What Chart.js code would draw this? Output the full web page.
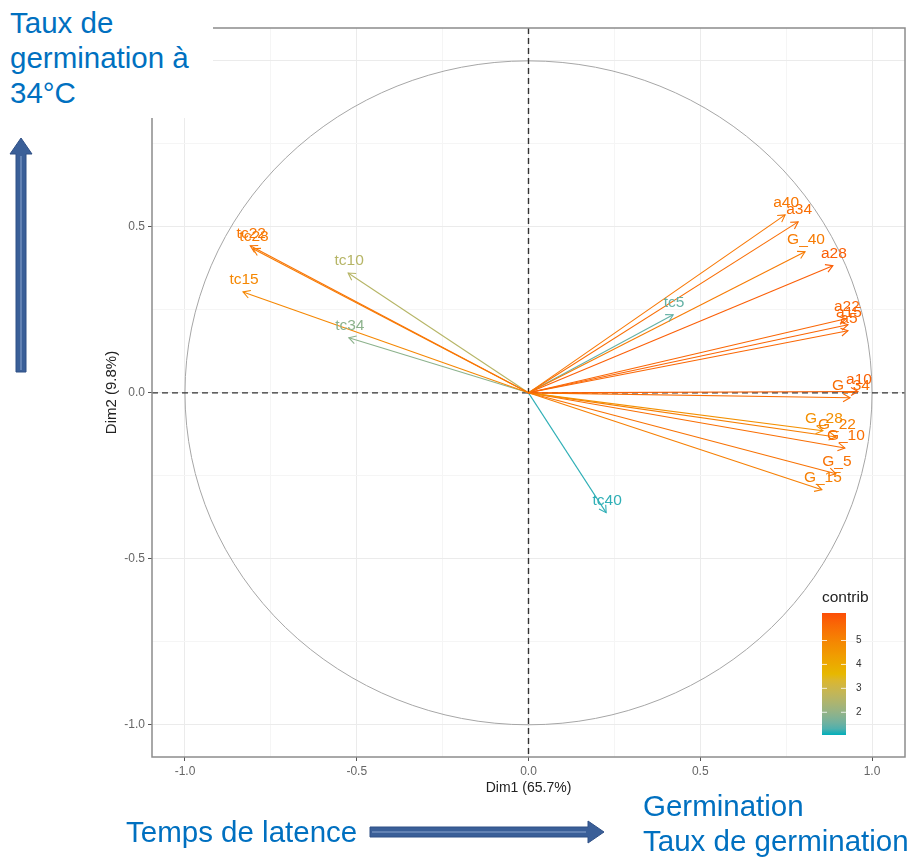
<!DOCTYPE html>
<html>
<head>
<meta charset="utf-8">
<script src="https://cdn.jsdelivr.net/npm/chart.js@4.4.1/dist/chart.umd.min.js"></script>
<style>
  body { margin: 0; background: #fff; font-family: "Liberation Sans", Arial, sans-serif; }
  #wrap { position: relative; width: 909px; height: 857px; overflow: hidden; }
  #pca { position: absolute; left: 0; top: 0; }
  .note { position: absolute; color: #0070C0; font-size: 29.5px; line-height: 35px; white-space: nowrap; }
  svg { position: absolute; }
</style>
</head>
<body>
<div id="wrap">
  <canvas id="pca" width="909" height="857"></canvas>

  <!-- annotations pasted over the plot -->
  <div class="note" style="left:0; top:0; width:213px; height:118px; background:#fff; padding:5px 0 0 10px; box-sizing:border-box;">Taux de<br>germination à<br>34°C</div>
  <svg style="left:8px; top:136px;" width="26" height="240">
    <polygon points="13,2 24,18 18,18 18,236 8,236 8,18 2,18" fill="#3a5f98" stroke="#2f5086" stroke-width="1"/>
    <line x1="13" y1="20" x2="13" y2="234" stroke="#8aa6d0" stroke-width="1"/>
  </svg>
  <div class="note" style="left:126px; top:814px;">Temps de latence</div>
  <svg style="left:368px; top:819px;" width="240" height="26">
    <polygon points="236,13 220,2 220,8 2,8 2,18 220,18 220,24" fill="#3a5f98" stroke="#2f5086" stroke-width="1"/>
    <line x1="4" y1="13" x2="218" y2="13" stroke="#8aa6d0" stroke-width="1"/>
  </svg>
  <div class="note" style="left:643px; top:788px;">Germination<br>Taux de germination</div>
</div>

<script>
// variables of the correlation circle (Dim1, Dim2 coordinates)
const varNames = ['a40', 'a34', 'G_40', 'a28', 'tc5', 'a22', 'a15', 'a5', 'G_34', 'a10',
                  'G_28', 'G_22', 'G_10', 'G_5', 'G_15', 'tc22', 'tc28', 'tc15', 'tc10', 'tc34', 'tc40'];
const dim1 = [0.747, 0.785, 0.805, 0.886, 0.421, 0.924, 0.930, 0.930, 0.936, 0.959,
              0.857, 0.895, 0.921, 0.895, 0.854, -0.810, -0.802, -0.831, -0.525, -0.523, 0.226];
const dim2 = [0.536, 0.515, 0.425, 0.383, 0.235, 0.223, 0.205, 0.187, -0.015, 0.004,
              -0.114, -0.133, -0.166, -0.244, -0.292, 0.443, 0.434, 0.304, 0.361, 0.166, -0.361];
const contrib = [5.33, 5.56, 5.23, 5.87, 1.46, 5.70, 5.72, 5.67, 5.52, 5.80,
                 4.71, 5.16, 5.52, 5.43, 5.13, 5.37, 5.24, 4.94, 2.56, 1.90, 1.14];

// axes
const gridValues = [-1, -0.75, -0.5, -0.25, 0, 0.25, 0.5, 0.75, 1];
const tickValues = [-1, -0.5, 0, 0.5, 1];
const tickLabels = ['-1.0', '-0.5', '0.0', '0.5', '1.0'];

// colour legend
const legendRange = [1.05, 6.15];
const legendTicks = [2, 3, 4, 5];
const gradientCols = ['#00AFBB', '#E7B800', '#FC4E07'];

// gradient is interpolated in Lab space, like ggplot does
function toLab(hex) {
  let rgb = [1, 3, 5].map(k => parseInt(hex.substr(k, 2), 16) / 255)
    .map(c => c > 0.04045 ? Math.pow((c + 0.055) / 1.055, 2.4) : c / 12.92);
  const [r, g, b] = rgb;
  let X = (r * 0.4124 + g * 0.3576 + b * 0.1805) / 0.95047;
  let Y = (r * 0.2126 + g * 0.7152 + b * 0.0722);
  let Z = (r * 0.0193 + g * 0.1192 + b * 0.9505) / 1.08883;
  const f = t => t > 0.008856 ? Math.cbrt(t) : 7.787 * t + 16 / 116;
  X = f(X); Y = f(Y); Z = f(Z);
  return [116 * Y - 16, 500 * (X - Y), 200 * (Y - Z)];
}
function fromLab([L, a, bb]) {
  let Y = (L + 16) / 116, X = a / 500 + Y, Z = Y - bb / 200;
  const fi = t => t * t * t > 0.008856 ? t * t * t : (t - 16 / 116) / 7.787;
  X = fi(X) * 0.95047; Y = fi(Y); Z = fi(Z) * 1.08883;
  let r = X * 3.2406 + Y * -1.5372 + Z * -0.4986;
  let g = X * -0.9689 + Y * 1.8758 + Z * 0.0415;
  let b = X * 0.0557 + Y * -0.2040 + Z * 1.0570;
  return [r, g, b].map(c => c > 0.0031308 ? 1.055 * Math.pow(c, 1 / 2.4) - 0.055 : 12.92 * c)
    .map(c => Math.round(Math.max(0, Math.min(1, c)) * 255));
}
const labCols = gradientCols.map(toLab);

function contribColor(v) {
  let t = (v - legendRange[0]) / (legendRange[1] - legendRange[0]);
  t = Math.max(0, Math.min(1, t));
  const seg = t < 0.5 ? 0 : 1;
  const f = seg === 0 ? t * 2 : (t - 0.5) * 2;
  const a = labCols[seg], b = labCols[seg + 1];
  const c = fromLab(a.map((x, i) => x + (b[i] - x) * f));
  return 'rgb(' + c.join(',') + ')';
}

const colors = contrib.map(contribColor);

const datasets = varNames.map((name, i) => ({
  label: name,
  data: [{x: 0, y: 0}, {x: dim1[i], y: dim2[i]}],
  showLine: true,
  borderColor: colors[i],
  borderWidth: 1.1,
  pointRadius: 0
}));

// circle, dashed axes, arrowheads, labels, colourbar, panel border
const pcaDecor = {
  id: 'pcaDecor',
  beforeDatasetsDraw(chart) {
    const {ctx, chartArea, scales: {x, y}} = chart;
    const cx = x.getPixelForValue(0), cy = y.getPixelForValue(0);
    ctx.save();
    ctx.beginPath();
    ctx.ellipse(cx, cy, x.getPixelForValue(1) - cx, cy - y.getPixelForValue(1), 0, 0, Math.PI * 2);
    ctx.strokeStyle = '#a6a6a6';
    ctx.lineWidth = 1;
    ctx.stroke();

    ctx.setLineDash([6, 4]);
    ctx.strokeStyle = '#333';
    ctx.lineWidth = 1.4;
    ctx.beginPath();
    ctx.moveTo(chartArea.left, cy); ctx.lineTo(chartArea.right, cy);
    ctx.moveTo(cx, chartArea.top); ctx.lineTo(cx, chartArea.bottom);
    ctx.stroke();
    ctx.restore();
  },
  afterDatasetsDraw(chart) {
    const {ctx, chartArea, scales: {x, y}} = chart;
    const ox = x.getPixelForValue(0), oy = y.getPixelForValue(0);
    ctx.save();
    ctx.lineWidth = 1.1;
    ctx.font = '15.5px "Liberation Sans", Arial, sans-serif';
    ctx.textAlign = 'center';
    ctx.textBaseline = 'middle';
    varNames.forEach((name, i) => {
      const tx = x.getPixelForValue(dim1[i]), ty = y.getPixelForValue(dim2[i]);
      const ang = Math.atan2(ty - oy, tx - ox);
      ctx.strokeStyle = colors[i];
      ctx.beginPath();
      ctx.moveTo(tx - 8 * Math.cos(ang - Math.PI / 6), ty - 8 * Math.sin(ang - Math.PI / 6));
      ctx.lineTo(tx, ty);
      ctx.lineTo(tx - 8 * Math.cos(ang + Math.PI / 6), ty - 8 * Math.sin(ang + Math.PI / 6));
      ctx.stroke();
      ctx.fillStyle = colors[i];
      ctx.fillText(name, tx + 1, ty - 12);
    });

    // colourbar legend
    const bx = 822, bw = 24, bTop = 613, bBot = 735;
    const toY = v => bBot - (v - legendRange[0]) / (legendRange[1] - legendRange[0]) * (bBot - bTop);
    const grad = ctx.createLinearGradient(0, bBot, 0, bTop);
    for (let k = 0; k <= 20; k++) {
      const v = legendRange[0] + (legendRange[1] - legendRange[0]) * k / 20;
      grad.addColorStop(k / 20, contribColor(v));
    }
    ctx.fillStyle = grad;
    ctx.fillRect(bx, bTop, bw, bBot - bTop);
    ctx.fillStyle = '#222';
    ctx.font = '15.5px "Liberation Sans", Arial, sans-serif';
    ctx.textAlign = 'left';
    ctx.textBaseline = 'alphabetic';
    ctx.fillText('contrib', bx, 602);
    ctx.font = '10px "Liberation Sans", Arial, sans-serif';
    ctx.textBaseline = 'middle';
    ctx.fillStyle = '#333';
    ctx.strokeStyle = 'rgba(255,255,255,0.8)';
    ctx.lineWidth = 1;
    legendTicks.forEach(v => {
      const py = toY(v);
      ctx.beginPath();
      ctx.moveTo(bx, py); ctx.lineTo(bx + 5, py);
      ctx.moveTo(bx + bw - 5, py); ctx.lineTo(bx + bw, py);
      ctx.stroke();
      ctx.fillText(String(v), bx + bw + 10, py);
    });

    // panel border
    ctx.strokeStyle = '#8c8c8c';
    ctx.lineWidth = 1.5;
    ctx.strokeRect(chartArea.left, chartArea.top, chartArea.right - chartArea.left, chartArea.bottom - chartArea.top);
    ctx.restore();
  }
};

const tickLabel = v => {
  const k = tickValues.indexOf(v);
  return k >= 0 ? tickLabels[k] : '';
};
const gridColor = c => tickValues.includes(c.tick.value) ? '#ebebeb' : '#f5f5f5';
const tickColor = c => tickValues.includes(c.tick.value) ? '#555' : 'rgba(0,0,0,0)';

new Chart(document.getElementById('pca'), {
  type: 'scatter',
  data: { datasets: datasets },
  options: {
    responsive: false,
    animation: false,
    devicePixelRatio: 1,
    layout: { padding: { top: 28, right: 4, bottom: 60, left: 100 } },
    plugins: { legend: { display: false }, tooltip: { enabled: false } },
    scales: {
      x: {
        min: -1.096, max: 1.096,
        afterBuildTicks: s => { s.ticks = gridValues.map(v => ({ value: v })); },
        afterFit: s => { s.height = 40; },
        ticks: { autoSkip: false, maxRotation: 0, padding: 3, color: '#666',
                 font: { size: 12 }, callback: tickLabel },
        grid: { color: gridColor, tickColor: tickColor, tickLength: 4, lineWidth: 1 },
        border: { display: false },
        title: { display: true, text: 'Dim1 (65.7%)', color: '#222', font: { size: 14 }, padding: { top: 0, bottom: 0 } }
      },
      y: {
        min: -1.097, max: 1.099,
        afterBuildTicks: s => { s.ticks = gridValues.map(v => ({ value: v })); },
        afterFit: s => { s.width = 52; },
        ticks: { autoSkip: false, padding: 3, color: '#666',
                 font: { size: 12 }, callback: tickLabel },
        grid: { color: gridColor, tickColor: tickColor, tickLength: 4, lineWidth: 1 },
        border: { display: false },
        title: { display: true, text: 'Dim2 (9.8%)', color: '#222', font: { size: 15 }, padding: { top: 3, bottom: 0 } }
      }
    }
  },
  plugins: [pcaDecor]
});
</script>
</body>
</html>
